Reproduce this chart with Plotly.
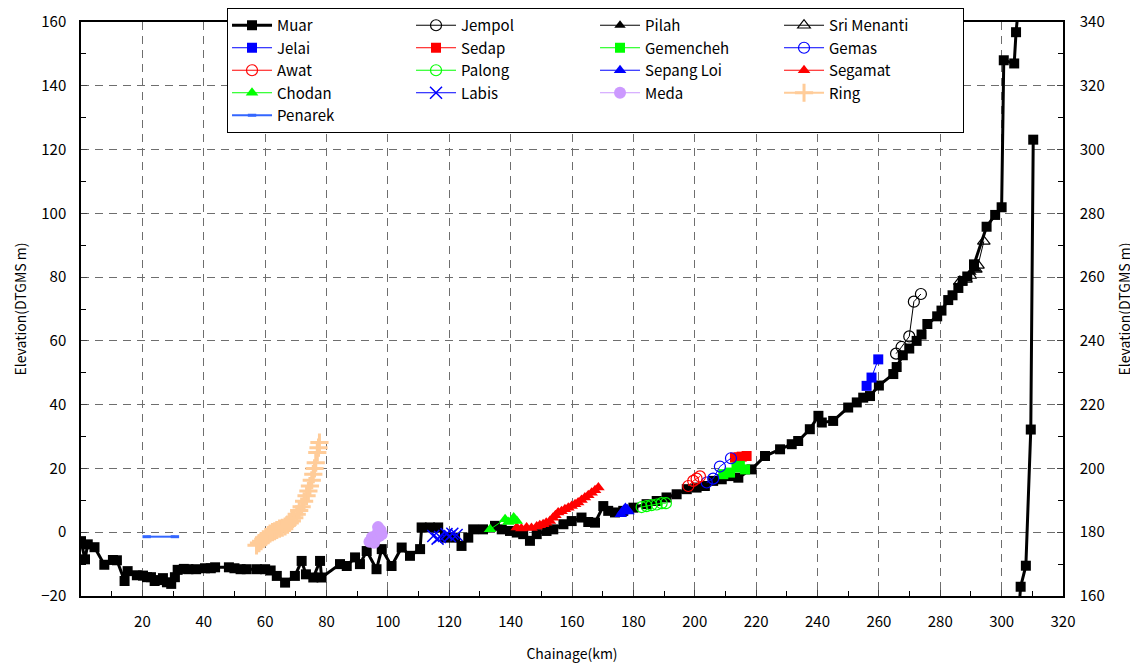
import plotly.graph_objects as go

# ---------------- data ----------------
muar_km = [0, 1.3, 2.2, 4.4, 7.6, 10.4, 11.7, 14.2, 15.2, 18.2, 20.2, 21.5, 22.8, 24.0, 25.4,
           26.7, 28.0, 29.4, 30.6, 31.5, 33.5, 35.0, 37.5, 40.4, 42.3, 43.7, 48.2, 50.0, 52.0,
           54.0, 57.3, 60.0, 61.8, 63.8, 66.5, 69.7, 71.9, 73.3, 75.7, 77.9, 78.4, 84.4, 86.6,
           89.3, 90.9, 93.1, 96.3, 98.0, 101.2, 104.5, 107.2, 110.5, 111.0, 113.7, 116.4, 118.6,
           121.9, 124.0, 126.2, 127.8, 131.0, 134.9, 137.1, 139.8, 142.0, 144.1, 146.3, 148.5,
           151.7, 153.9, 157.2, 159.9, 163.1, 165.3, 167.5, 170.2, 171.8, 174.0, 176.7, 180.0,
           184.3, 187.6, 190.8, 194.1, 197.4, 200.6, 203.3, 206.0, 208.8, 211.5, 214.2, 218.5,
           222.9, 227.8, 231.6, 233.7, 237.5, 240.3, 241.4, 245.1, 250.0, 252.8, 254.9, 257.1,
           260.0, 264.7, 265.8, 267.8, 269.9, 272.3, 273.9, 275.8, 279.0, 280.4, 282.6, 284.0,
           285.9, 287.3, 288.8, 291.0, 295.1, 297.9, 300.0, 300.7, 304.1, 304.7, 306.5]
muar_elev = [-2.8, -8.5, -3.8, -4.7, -10.2, -8.7, -8.8, -15.3, -12.2, -13.5, -13.6, -14.1, -14.1,
             -15.3, -15.0, -14.4, -15.7, -16.2, -14.1, -11.8, -11.5, -11.6, -11.6, -11.3, -11.3,
             -11.0, -11.0, -11.3, -11.6, -11.6, -11.6, -11.6, -12.0, -13.7, -15.8, -13.7, -9.0,
             -13.2, -14.2, -9.0, -14.2, -10.0, -10.6, -7.9, -10.0, -5.9, -11.6, -5.3, -10.6,
             -4.8, -7.4, -5.3, 1.5, 1.5, 1.5, -1.7, -1.7, -4.3, -1.7, 0.9, 0.9, 2.0, 0.9, 0.4,
             -0.1, -0.6, -2.7, -0.6, 0.4, 0.9, 2.5, 3.5, 4.6, 3.2, 3.0, 8.2, 6.7, 6.2, 6.7, 7.7,
             8.8, 9.8, 10.9, 11.9, 13.5, 14.0, 14.5, 16.1, 16.6, 17.6, 17.1, 19.7, 23.9, 26.0,
             27.6, 28.6, 32.3, 36.5, 34.4, 34.9, 39.1, 40.7, 42.2, 42.7, 46.0, 49.6, 51.8, 55.5,
             57.6, 60.0, 62.0, 65.3, 67.7, 69.5, 72.8, 74.3, 76.6, 78.8, 80.2, 84.0, 95.8, 99.5,
             101.9, 148.0, 147.0, 156.8, 175.0]
# continuation of Muar read on the right-hand axis
muar2_km = [305.3, 306.2, 307.9, 309.5, 310.3]
muar2_elev = [152.0, 162.9, 169.5, 212.2, 303.1]

jempol_km = [265.6, 267.4, 269.9, 271.4, 273.7]
jempol_elev = [56.0, 58.1, 61.4, 72.3, 74.7]
pilah_km = [287.0, 288.5, 290.0, 291.5]
pilah_elev = [78.5, 80.0, 81.5, 82.5]
srimenanti_km = [286.4, 288.4, 289.8, 291.6, 292.3, 294.2]
srimenanti_elev = [78.6, 79.3, 80.5, 82.4, 83.7, 91.2]
jelai_km = [256.0, 257.6, 259.8]
jelai_elev = [45.9, 48.5, 54.2]
sedap_km = [213.1, 214.3, 215.3, 216.9]
sedap_elev = [23.4, 23.5, 23.7, 23.9]
gemencheh_km = [209.3, 211.5, 213.6, 214.7, 216.4]
gemencheh_elev = [18.2, 18.7, 20.3, 20.8, 19.7]
gemas_km = [203.9, 206.0, 208.2, 211.8]
gemas_elev = [15.6, 16.8, 20.6, 23.2]
awat_km = [197.9, 199.5, 200.6, 201.7]
awat_elev = [14.5, 16.1, 16.8, 17.5]
palong_km = [182.7, 184.3, 185.9, 187.6, 189.2, 190.6]
palong_elev = [7.9, 8.2, 8.5, 8.7, 9.1, 9.1]
sepangloi_km = [175.9, 176.4, 176.9, 177.4, 178.0, 178.4]
sepangloi_elev = [5.6, 6.4, 7.0, 7.6, 7.2, 6.5]
segamat_km = [142.0, 143.5, 145.2, 146.8, 148.5, 149.5, 150.6, 151.6, 152.8, 153.8, 154.6, 155.5,
              156.6, 157.7, 158.8, 159.9, 161.0, 162.0, 163.1, 164.2, 165.3, 166.4, 167.5, 168.6]
segamat_elev = [1.5, 1.2, 1.5, 1.3, 1.8, 2.2, 2.5, 3.0, 3.5, 4.5, 5.3, 6.2, 6.6, 7.2, 7.7, 8.2,
                8.8, 9.3, 10.1, 10.9, 11.6, 12.4, 13.2, 14.0]
chodan_km = [133.3, 138.2, 139.2, 140.3, 141.0, 142.0]
chodan_elev = [0.9, 4.1, 3.2, 3.5, 4.6, 3.5]
labis_km = [114.8, 116.2, 117.0, 119.1, 120.2, 121.0, 122.4]
labis_elev = [-1.2, -2.0, -1.5, -0.6, -1.2, -0.5, -0.9]
meda_km = [94.0, 94.8, 95.5, 96.0, 96.6, 96.8, 97.2, 97.6, 98.0]
meda_elev = [-3.0, -1.6, -3.3, -2.0, -0.4, 1.6, -1.2, 0.6, -0.6]
ring_km = [57.2, 58.0, 58.7, 59.4, 60.2, 61.0, 61.6, 62.4, 63.1, 63.8, 64.7, 65.6, 66.5, 67.3,
           68.0, 68.7, 69.5, 70.3, 71.1, 71.9, 72.7, 73.5, 74.1, 74.6, 75.2, 75.7, 76.1, 76.5,
           77.0, 77.4, 77.7]
ring_elev = [-4.1, -3.4, -2.8, -2.2, -1.5, -0.9, -0.4, 0.0, 0.3, 0.7, 1.1, 1.4, 1.8, 2.4, 2.9,
             3.5, 4.5, 5.6, 6.8, 8.0, 9.7, 11.4, 12.9, 14.5, 16.3, 18.2, 20.0, 21.8, 25.0, 26.5,
             28.1]
penarek_km = [21.4, 30.6]
penarek_elev = [-1.4, -1.4]

x_ticks = list(range(20, 321, 20))

BLUE = "#0000FF"
RED = "#FF0000"
LIME = "#00FF00"

fig = go.Figure()

def add(name, xs, ys, color, symbol, group, size=8, lw=1, mline=None, yaxis="y", showlegend=True):
    marker = dict(symbol=symbol, size=size, color=color)
    if mline is not None:
        marker["line"] = dict(color=color, width=mline)
    fig.add_trace(go.Scatter(x=xs, y=ys, name=name, mode="lines+markers",
                             line=dict(color=color, width=lw), marker=marker,
                             legendgroup=group, yaxis=yaxis, showlegend=showlegend))

# legend columns are built as legend groups (c1..c4)
add("Muar", muar_km, muar_elev, "black", "square", "c1", size=10, lw=3)
add("Jempol", jempol_km, jempol_elev, "black", "circle-open", "c2", size=11, lw=1, mline=1.2)
add("Pilah", pilah_km, pilah_elev, "black", "triangle-up", "c3", size=10, lw=1)
add("Sri Menanti", srimenanti_km, srimenanti_elev, "black", "triangle-up-open", "c4", size=11, lw=1, mline=1.2)
add("Jelai", jelai_km, jelai_elev, BLUE, "square", "c1", size=10, lw=1)
add("Sedap", sedap_km, sedap_elev, RED, "square", "c2", size=10, lw=1)
add("Gemencheh", gemencheh_km, gemencheh_elev, LIME, "square", "c3", size=10, lw=1)
add("Gemas", gemas_km, gemas_elev, BLUE, "circle-open", "c4", size=11, lw=1, mline=1.2)
add("Awat", awat_km, awat_elev, RED, "circle-open", "c1", size=11, lw=1, mline=1.2)
add("Palong", palong_km, palong_elev, LIME, "circle-open", "c2", size=11, lw=1, mline=1.2)
add("Sepang Loi", sepangloi_km, sepangloi_elev, BLUE, "triangle-up", "c3", size=11, lw=1)
add("Segamat", segamat_km, segamat_elev, RED, "triangle-up", "c4", size=11, lw=1)
add("Chodan", chodan_km, chodan_elev, LIME, "triangle-up", "c1", size=11, lw=1)
add("Labis", labis_km, labis_elev, BLUE, "x-thin-open", "c2", size=12, lw=1, mline=1.5)
add("Meda", meda_km, meda_elev, "#CC99FF", "circle", "c3", size=12, lw=1)
add("Ring", ring_km, ring_elev, "#FFCC99", "cross-thin-open", "c4", size=13, lw=2, mline=3)
add("Penarek", penarek_km, penarek_elev, "#3366FF", "line-ew-open", "c1", size=6, lw=2, mline=3)
add("Muar", muar2_km, muar2_elev, "black", "square", "c1", size=10, lw=3, yaxis="y2", showlegend=False)

grid_color = "#6E6E6E"
font_family = "Noto Sans CJK JP"

# page body has an 8px margin, so the figure is sized 8px smaller
fig.update_layout(
    width=1130, height=655,
    margin=dict(l=73, r=75, t=14, b=67, autoexpand=False),
    plot_bgcolor="white", paper_bgcolor="white",
    font=dict(family=font_family, size=15, color="black"),
    xaxis=dict(range=[0, 320], tickvals=x_ticks, ticks="inside", ticklen=6,
               showline=True, linecolor="black", linewidth=1.5, mirror=True,
               showgrid=True, gridcolor=grid_color, griddash="8px,6px", gridwidth=1,
               zeroline=False, ticklabelstandoff=11, automargin=False,
               minor=dict(dtick=10, tick0=0, ticks="inside", ticklen=5, tickcolor="black", showgrid=False),
               title=dict(text="Chainage(km)", font=dict(size=14), standoff=20)),
    yaxis=dict(range=[-20, 160], dtick=20, tick0=0, ticks="inside", ticklen=6,
               showline=True, linecolor="black", linewidth=1.5, automargin=False,
               showgrid=True, gridcolor=grid_color, griddash="8px,6px", gridwidth=1,
               zeroline=False, ticklabelstandoff=10,
               minor=dict(dtick=10, ticks="inside", ticklen=5, tickcolor="black", showgrid=False),
               title=dict(text="Elevation(DTGMS m)", font=dict(size=14), standoff=11)),
    yaxis2=dict(range=[160, 340], dtick=20, tick0=160, overlaying="y", side="right",
                ticks="inside", ticklen=6, showline=True, linecolor="black", linewidth=1.5,
                showgrid=False, zeroline=False, ticklabelstandoff=12, automargin=False,
                minor=dict(dtick=10, ticks="inside", ticklen=5, tickcolor="black", showgrid=False),
                title=dict(text="Elevation(DTGMS m)", font=dict(size=14), standoff=16)),
    legend=dict(orientation="h", x=0.1487, y=1.0244, xanchor="left", yanchor="top",
                entrywidth=129, itemwidth=40, bgcolor="white", bordercolor="black",
                borderwidth=1, font=dict(size=15, family=font_family), tracegroupgap=0,
                traceorder="grouped", groupclick="toggleitem"),
)

fig.write_html("out.html")
